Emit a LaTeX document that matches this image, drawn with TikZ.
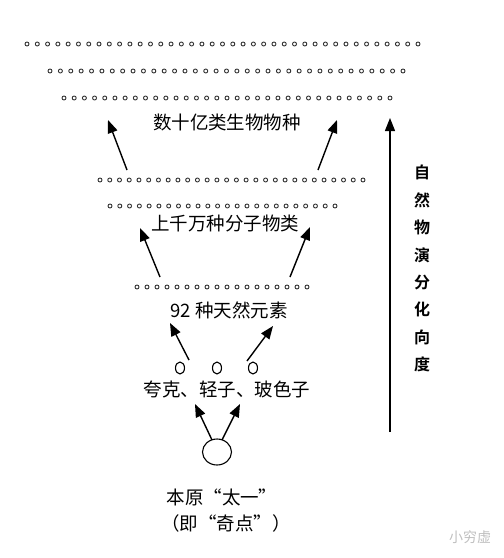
\documentclass[tikz,border=0pt]{standalone}
\usepackage{fontspec}
\setmainfont{Noto Sans CJK SC}
\newfontfamily\cjkbold{Noto Sans CJK SC Bold}
\usetikzlibrary{arrows.meta,shapes.geometric}
\tikzset{
  dotring/.style={draw=black!80, line width=0.9pt},
  lbl/.style={font=\fontsize{18.5}{18.5}\selectfont, inner sep=0pt},
  uparrow/.style={line width=1.4pt, -{Triangle[length=13pt,width=10pt]}},
  smallo/.style={draw, line width=1.1pt, ellipse, minimum width=9pt, minimum height=12pt, inner sep=0pt},
}
\begin{document}
\begin{tikzpicture}[x=1pt,y=-1pt]
\useasboundingbox (0,0) rectangle (504,558);
% dotted rows
\foreach \y/\xa/\xb/\n in {44/27/418/38, 71/50/403/34, 98/64/390/32, 180/100/363/27, 206/110/335/23, 287/137/307/17}{
  \foreach \i in {0,...,\n}{
    \draw[dotring] ({\xa+(\xb-\xa)*\i/\n},\y) circle (2);
  }
}
% labels
\node[lbl] (bio) at (227,122) {数十亿类生物物种};
\node[lbl] (mol) at (225,223) {上千万种分子物类};
\node[lbl] (elem) at (229,310) {92 种天然元素};
\node[lbl] (quark) at (227,389) {夸克、轻子、玻色子};
\node[lbl] (origin) at (222,497) {本原“太一”};
\node[lbl] (sing) at (226,523) {（即“奇点”）};
% particles
\node[smallo] (o1) at (180,368) {};
\node[smallo] (o2) at (217,368) {};
\node[smallo] (o3) at (253,368) {};
\node[draw, ellipse, line width=1.1pt, minimum width=29pt, minimum height=26pt, inner sep=0pt] (big) at (217,452) {};
% arrow coordinates
\coordinate (a1s) at (127,170); \coordinate (a1e) at (108,120);
\coordinate (a2s) at (318,170); \coordinate (a2e) at (337,120);
\coordinate (b1s) at (160,277); \coordinate (b1e) at (140,228);
\coordinate (b2s) at (290,277); \coordinate (b2e) at (310,227);
\coordinate (c1s) at (189,360); \coordinate (c1e) at (170,323);
\coordinate (c2s) at (247,361); \coordinate (c2e) at (273,326);
\coordinate (d1s) at (212,440); \coordinate (d1e) at (195,404);
\coordinate (d2s) at (222,440); \coordinate (d2e) at (240,404);
\coordinate (vs) at (390,432); \coordinate (ve) at (390,118);
\draw[uparrow] (a1s) -- (a1e);
\draw[uparrow] (a2s) -- (a2e);
\draw[uparrow] (b1s) -- (b1e);
\draw[uparrow] (b2s) -- (b2e);
\draw[uparrow] (c1s) -- (c1e);
\draw[uparrow] (c2s) -- (c2e);
\draw[uparrow] (d1s) -- (d1e);
\draw[uparrow] (d2s) -- (d2e);
\draw[line width=1.2pt, -{Triangle[length=13pt,width=10pt]}] (vs) -- (ve);
% vertical text
\node[font=\cjkbold\fontsize{16}{27.4}\selectfont, align=center, inner sep=0pt, anchor=north] (vert) at (422,165) {自\\然\\物\\演\\分\\化\\向\\度};
% watermark
\node[font=\fontsize{14}{14}\selectfont, text=black!25, inner sep=0pt] (wm) at (470,537) {小穷虚};
\end{tikzpicture}
\end{document}
